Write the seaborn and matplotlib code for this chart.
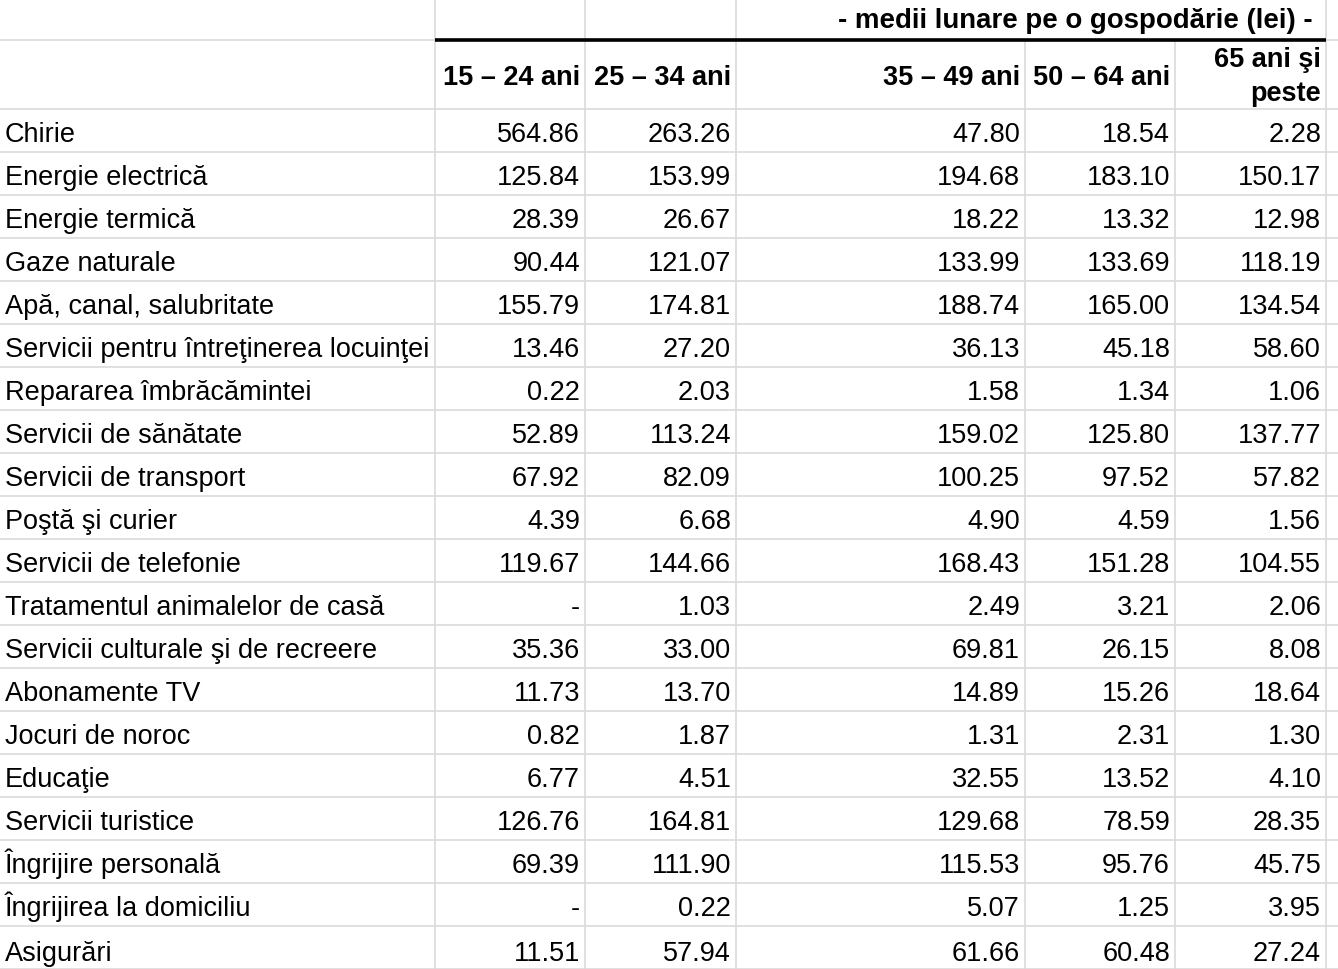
import matplotlib
matplotlib.use("Agg")
import matplotlib.pyplot as plt
import seaborn as sns

sns.set_theme(style="white")
plt.rcParams['font.family'] = ['Liberation Sans', 'DejaVu Sans']
plt.rcParams['text.color'] = 'black'

title = "- medii lunare pe o gospodărie (lei) -"
age_groups = ["15 – 24 ani", "25 – 34 ani", "35 – 49 ani", "50 – 64 ani", "65 ani şi\npeste"]
categories = [
    "Chirie", "Energie electrică", "Energie termică", "Gaze naturale",
    "Apă, canal, salubritate", "Servicii pentru întreţinerea locuinţei",
    "Repararea îmbrăcămintei", "Servicii de sănătate", "Servicii de transport",
    "Poştă şi curier", "Servicii de telefonie", "Tratamentul animalelor de casă",
    "Servicii culturale şi de recreere", "Abonamente TV", "Jocuri de noroc",
    "Educaţie", "Servicii turistice", "Îngrijire personală",
    "Îngrijirea la domiciliu", "Asigurări",
]
v_15_24 = [564.86, 125.84, 28.39, 90.44, 155.79, 13.46, 0.22, 52.89, 67.92, 4.39,
           119.67, None, 35.36, 11.73, 0.82, 6.77, 126.76, 69.39, None, 11.51]
v_25_34 = [263.26, 153.99, 26.67, 121.07, 174.81, 27.20, 2.03, 113.24, 82.09, 6.68,
           144.66, 1.03, 33.00, 13.70, 1.87, 4.51, 164.81, 111.90, 0.22, 57.94]
v_35_49 = [47.80, 194.68, 18.22, 133.99, 188.74, 36.13, 1.58, 159.02, 100.25, 4.90,
           168.43, 2.49, 69.81, 14.89, 1.31, 32.55, 129.68, 115.53, 5.07, 61.66]
v_50_64 = [18.54, 183.10, 13.32, 133.69, 165.00, 45.18, 1.34, 125.80, 97.52, 4.59,
           151.28, 3.21, 26.15, 15.26, 2.31, 13.52, 78.59, 95.76, 1.25, 60.48]
v_65 = [2.28, 150.17, 12.98, 118.19, 134.54, 58.60, 1.06, 137.77, 57.82, 1.56,
        104.55, 2.06, 8.08, 18.64, 1.30, 4.10, 28.35, 45.75, 3.95, 27.24]
series = [v_15_24, v_25_34, v_35_49, v_50_64, v_65]

W, H = 1338, 970
fig = plt.figure(figsize=(W / 100, H / 100), dpi=100)
ax = fig.add_axes([0, 0, 1, 1])
ax.set_xlim(0, W)
ax.set_ylim(H, 0)
ax.axis("off")

col_edges = [0, 435, 585, 736, 1025, 1175, 1326]
title_bottom = 41
head_bottom = 110
row_h = 43
grid_c = "#dadada"
fs = 19.5

# horizontal grid lines
ys = [title_bottom, head_bottom] + [head_bottom + row_h * (i + 1) for i in range(len(categories))]
for y in ys:
    ax.plot([0, W], [y, y], color=grid_c, lw=1.2, zorder=1)
# vertical grid lines
for x in col_edges[1:]:
    top = title_bottom if x in (1025, 1175) else 0
    ax.plot([x, x], [top, H], color=grid_c, lw=1.2, zorder=1)
# thick black rule under title
ax.plot([col_edges[1], col_edges[-1]], [title_bottom, title_bottom], color="black", lw=2.6,
        solid_capstyle="butt", zorder=2)

# title
ax.text(1313, 28, title, ha="right", va="baseline", fontsize=fs + 0.4, fontweight="bold",
        color="black")

# column headers
for j, lab in enumerate(age_groups):
    xr = col_edges[j + 2] - 5
    lines = lab.split("\n")
    if len(lines) == 1:
        ax.text(xr, 85, lines[0], ha="right", va="baseline", fontsize=fs, fontweight="bold",
                color="black")
    else:
        ax.text(xr, 67, lines[0], ha="right", va="baseline", fontsize=fs, fontweight="bold",
                color="black")
        ax.text(xr, 101, lines[1], ha="right", va="baseline", fontsize=fs, fontweight="bold",
                color="black")

# rows
for i, cat in enumerate(categories):
    base = head_bottom + row_h * i + 32
    if i == len(categories) - 1:
        base += 2
    ax.text(5, base, cat, ha="left", va="baseline", fontsize=fs, color="black")
    for j, s in enumerate(series):
        v = s[i]
        txt = "-" if v is None else f"{v:.2f}"
        ax.text(col_edges[j + 2] - 5, base, txt, ha="right", va="baseline", fontsize=fs,
                color="black")

fig.savefig("out.png", dpi=100, facecolor="white")
